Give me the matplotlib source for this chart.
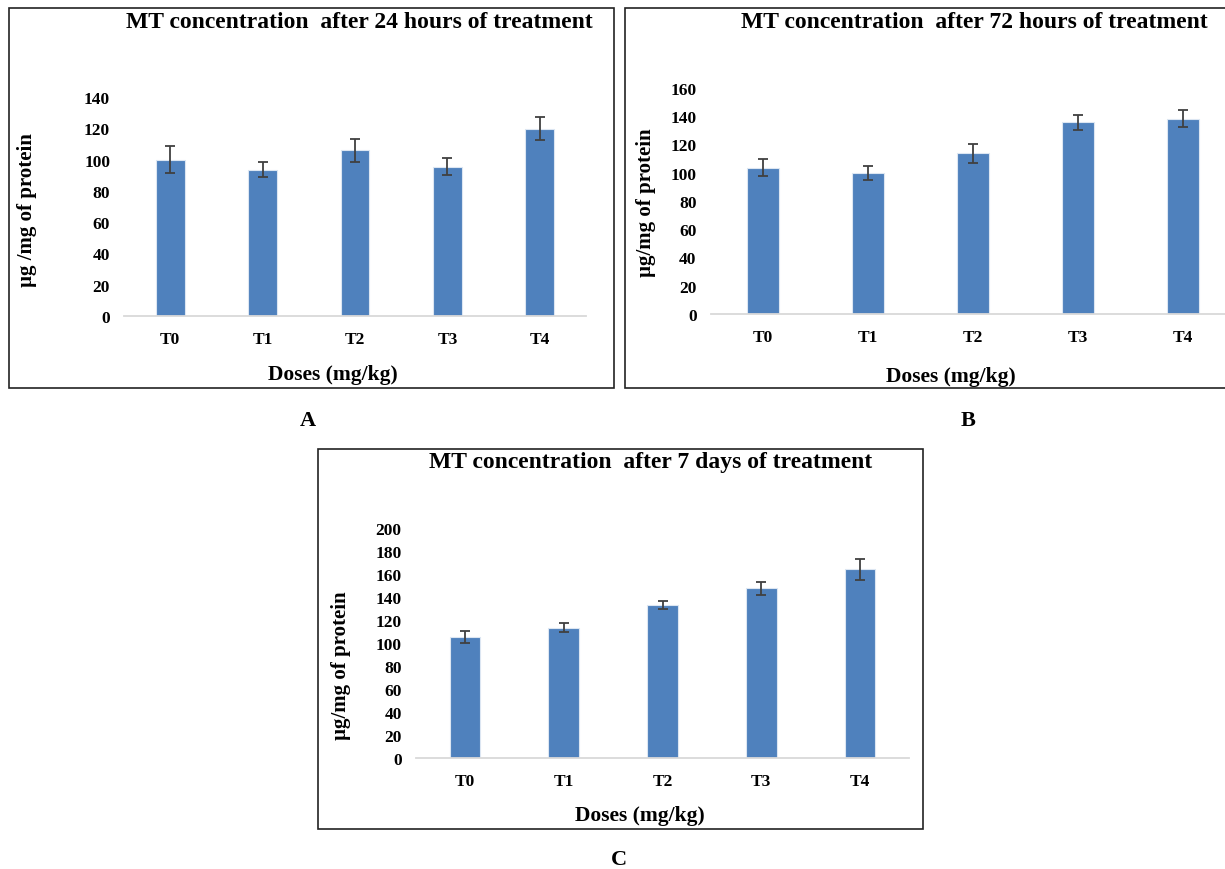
import matplotlib
matplotlib.use("Agg")
import matplotlib.pyplot as plt
from matplotlib.patches import Rectangle

plt.rcParams['font.family'] = ['Liberation Serif', 'DejaVu Serif']
plt.rcParams['font.weight'] = 'bold'

W, H = 1225, 870

categories = ["T0", "T1", "T2", "T3", "T4"]

vals_24h = [100, 93.5, 106, 95.5, 119.7]
err_24h = [8.5, 4.8, 7.3, 5.6, 7.5]

vals_72h = [103.6, 99.8, 113.7, 135.8, 138.4]
err_72h = [5.8, 5.2, 7.0, 5.2, 6.2]

vals_7d = [105.2, 113.4, 133.4, 147.7, 164.0]
err_7d = [5.5, 3.8, 3.4, 5.7, 9.0]

titles = ["MT concentration  after 24 hours of treatment",
          "MT concentration  after 72 hours of treatment",
          "MT concentration  after 7 days of treatment"]
ylabels = ["µg /mg of protein", "µg/mg of protein", "µg/mg of protein"]
xlabel = "Doses (mg/kg)"
panel_letters = ["A", "B", "C"]

BAR = "#4F81BD"
ERR = "#404040"
AXL = "#D9D9D9"

fig = plt.figure(figsize=(W / 100, H / 100), dpi=100)


def fx(x):
    return x / W


def fy(y):
    return 1 - y / H


panels = [
    dict(vals=vals_24h, err=err_24h, box=(9, 9, 614, 389), ax=(124, 586, 317, 98), ymax=140, step=20,
         title=(359, 22), ylab=(27, 210), xlab=(333, 375), letter=(308, 421)),
    dict(vals=vals_72h, err=err_72h, box=(625, 9, 1226, 389), ax=(710.5, 1235.5, 315, 89), ymax=160, step=20,
         title=(974, 23), ylab=(646, 203), xlab=(951, 377), letter=(968, 421)),
    dict(vals=vals_7d, err=err_7d, box=(318, 450, 923, 830), ax=(415.6, 909.4, 759, 529), ymax=200, step=20,
         title=(651, 463), ylab=(341, 666), xlab=(640, 816), letter=(619, 860)),
]

for i, p in enumerate(panels):
    l, t, r, b = p['box']
    fig.patches.append(Rectangle((fx(l), fy(b)), fx(r - l), (b - t) / H, transform=fig.transFigure,
                                 fill=False, edgecolor="#222222", linewidth=1.2))
    al, ar, ab, at = p['ax']
    ax = fig.add_axes([fx(al), fy(ab), fx(ar - al), (ab - at) / H])
    x = range(len(categories))
    ax.bar(x, p['vals'], width=0.31, color=BAR, edgecolor="#DCE6F2", linewidth=0.8, zorder=2)
    ax.errorbar(x, p['vals'], yerr=p['err'], fmt='none', ecolor=ERR, elinewidth=1.3,
                capsize=3.3, capthick=1.3, zorder=3)
    ax.set_xlim(-0.5, 4.5)
    ax.set_ylim(0, p['ymax'])
    ax.set_yticks(range(0, p['ymax'] + 1, p['step']))
    ax.set_xticks(list(x))
    ax.set_xticklabels(categories)
    for s in ['top', 'right', 'left']:
        ax.spines[s].set_visible(False)
    ax.spines['bottom'].set_color(AXL)
    ax.spines['bottom'].set_linewidth(1.3)
    ax.tick_params(axis='both', length=0, labelsize=12.5)
    ax.tick_params(axis='y', pad=10)
    ax.tick_params(axis='x', pad=11)
    for lab in ax.get_xticklabels() + ax.get_yticklabels():
        lab.set_fontweight('bold')
    ax.patch.set_alpha(0)

    fig.text(fx(p['title'][0]), fy(p['title'][1]), titles[i], ha='center', va='center',
             fontsize=17, fontweight='bold')
    fig.text(fx(p['ylab'][0]), fy(p['ylab'][1]), ylabels[i], ha='center', va='center',
             rotation=90, fontsize=15, fontweight='bold')
    fig.text(fx(p['xlab'][0]), fy(p['xlab'][1]), xlabel, ha='center', va='center',
             fontsize=15.5, fontweight='bold')
    fig.text(fx(p['letter'][0]), fy(p['letter'][1]), panel_letters[i], ha='center', va='center',
             fontsize=16, fontweight='bold')

fig.savefig("out.png", dpi=100, facecolor="white")
